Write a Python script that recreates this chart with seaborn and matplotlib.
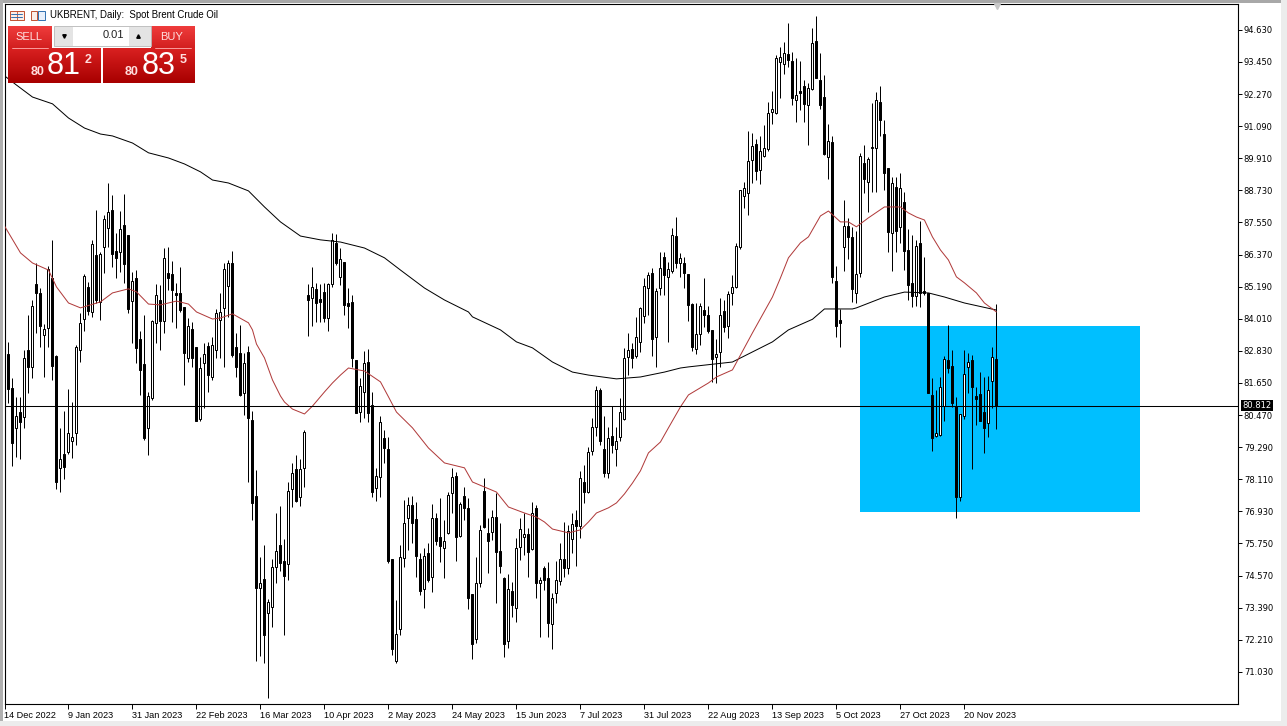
import numpy as np
import pandas as pd
import seaborn as sns
import matplotlib.pyplot as plt
from matplotlib.patches import Rectangle

# ---- data ----
opens = [
    82.74,82.70,81.45,80.01,80.57,80.41,82.86,82.25,85.29,84.95,
    83.41,83.66,85.50,82.64,78.51,79.03,79.12,79.53,79.80,82.86,
    83.99,85.19,84.24,86.35,84.64,86.66,87.33,88.01,86.50,86.48,
    87.45,87.09,84.68,85.50,83.25,82.35,80.01,81.09,83.84,84.70,
    83.94,85.68,85.66,84.97,84.95,84.43,82.56,83.62,82.98,80.33,
    82.37,83.01,81.86,82.86,83.97,84.39,85.23,86.05,82.98,82.74,
    81.29,82.80,80.29,77.49,74.12,74.44,73.18,73.43,74.90,75.68,
    75.12,74.98,77.76,78.47,77.47,78.51,84.88,84.76,85.09,84.74,
    85.00,84.05,85.28,86.78,85.56,86.09,84.58,84.61,82.50,80.57,
    81.31,82.41,80.83,77.80,78.18,79.61,79.21,75.17,71.44,72.59,
    75.20,76.67,77.16,76.64,75.17,74.06,75.39,74.53,76.67,75.97,
    75.57,76.12,77.59,78.23,76.04,77.49,77.04,73.89,72.22,74.28,
    77.69,76.15,76.16,76.71,75.47,74.47,72.17,74.00,73.36,75.63,
    76.00,76.09,75.53,77.04,74.28,74.84,74.47,72.78,73.94,74.38,
    75.17,74.84,75.90,76.61,76.39,78.02,77.65,79.16,80.02,81.39,
    79.21,78.33,79.70,79.22,79.68,80.33,82.59,82.89,82.65,83.17,
    84.12,85.13,85.68,83.33,85.13,86.27,85.56,85.77,87.05,86.05,
    86.05,85.64,84.55,82.89,83.44,84.33,84.15,83.60,82.62,82.78,
    84.30,83.76,84.97,85.17,86.64,88.54,88.65,89.85,90.42,89.48,
    90.01,90.25,91.62,91.56,93.44,93.37,93.73,93.49,92.05,92.38,
    92.57,91.85,92.45,94.23,92.79,92.15,89.97,90.52,85.40,83.97,
    86.66,87.42,87.00,84.97,85.68,89.72,89.03,90.28,90.28,91.99,
    90.80,89.54,87.18,88.87,87.40,88.29,86.54,85.31,84.86,86.78,
    85.04,84.95,81.21,79.70,79.74,80.80,82.50,82.27,80.80,77.45,
    80.45,82.22,82.50,81.17,81.24,80.60,80.17,81.73,82.52,
]
highs = [
    82.98,83.17,81.82,81.15,81.15,82.86,84.15,84.70,86.05,85.13,
    83.82,85.95,86.91,82.68,79.98,80.62,81.43,80.95,83.05,84.21,
    85.66,85.37,86.91,88.01,86.48,87.83,88.99,88.56,87.15,87.98,
    88.59,87.09,85.74,85.80,83.56,84.15,81.31,83.97,85.28,85.25,
    86.62,86.66,86.15,85.31,85.93,84.46,84.03,83.90,82.98,82.62,
    83.11,83.17,83.35,84.36,84.95,86.05,86.17,86.51,83.47,83.78,
    82.74,83.01,80.62,78.45,75.27,75.69,73.70,75.17,76.86,77.13,
    75.91,78.01,78.72,79.00,78.85,79.92,85.29,85.93,85.31,85.29,
    85.31,85.31,87.15,87.13,86.60,86.09,85.13,84.88,82.50,81.85,
    82.82,82.89,81.33,78.51,80.45,79.92,79.68,75.17,73.67,75.69,
    77.35,77.47,77.49,77.29,75.39,75.57,75.78,77.19,76.88,77.41,
    76.61,77.65,78.51,78.39,77.29,77.84,77.41,73.89,75.27,76.43,
    78.14,76.67,76.98,77.62,76.51,74.53,74.63,74.35,75.94,76.70,
    76.86,76.31,77.26,77.16,74.50,74.92,75.08,73.92,75.12,75.78,
    76.55,76.43,76.86,76.98,78.43,78.63,79.31,80.35,81.54,81.45,
    80.44,80.04,80.80,80.04,81.09,82.92,83.47,83.13,84.06,84.43,
    85.50,85.74,85.87,85.13,86.48,86.45,86.11,87.33,87.74,86.42,
    86.29,85.64,84.58,84.58,84.58,85.52,84.48,83.60,83.25,84.76,
    84.70,85.04,85.62,86.78,88.74,89.03,90.91,90.83,90.61,90.73,
    91.13,91.99,92.38,93.71,94.01,94.17,94.87,93.83,93.61,93.50,
    92.79,92.67,94.69,95.14,93.77,92.97,91.16,90.73,85.96,84.37,
    88.38,87.70,87.40,87.24,90.09,90.40,89.95,91.93,92.36,92.57,
    91.32,89.54,89.23,89.23,89.38,88.68,87.31,87.09,86.91,87.60,
    86.29,84.95,81.85,81.39,81.88,82.64,83.78,82.86,81.15,80.50,
    82.86,82.74,82.68,81.51,82.04,81.88,81.91,82.98,84.55,
]
lows = [
    80.53,80.90,78.60,78.94,78.87,80.01,81.29,81.82,83.47,82.98,
    81.86,82.98,81.76,77.75,77.65,78.12,79.04,78.90,79.37,82.43,
    83.57,84.15,84.09,84.58,83.97,85.71,86.66,85.93,85.50,85.74,
    85.31,84.21,83.11,82.37,81.21,79.55,79.00,81.03,83.11,82.86,
    83.47,85.07,83.90,83.66,84.27,81.57,82.43,82.25,80.26,80.26,
    80.72,81.31,81.76,82.56,82.56,82.25,84.09,82.62,81.88,81.17,
    80.47,78.02,76.61,71.44,71.61,71.37,70.08,72.69,74.31,74.75,
    72.38,74.41,77.10,77.29,77.14,77.84,83.38,83.75,83.90,83.90,
    83.90,83.57,85.17,85.99,85.25,84.15,83.66,82.25,80.53,80.23,
    80.35,80.23,77.47,77.32,77.47,78.70,75.02,71.65,71.37,72.38,
    74.87,75.51,75.75,74.53,73.86,73.36,74.35,73.98,75.69,75.06,
    74.47,76.10,76.88,75.12,76.00,76.61,73.33,71.49,72.08,74.16,
    76.31,74.65,75.88,73.57,74.68,71.59,71.92,73.06,72.87,75.14,
    75.33,74.53,75.51,73.76,72.30,74.04,72.32,71.86,73.57,74.22,
    74.53,74.63,75.39,74.92,75.94,77.25,77.59,79.00,79.70,79.37,
    78.18,78.14,79.06,78.61,79.53,80.29,81.94,82.19,82.56,82.80,
    83.84,84.15,82.65,82.25,84.88,84.88,83.17,85.71,85.87,85.56,
    85.13,83.94,82.84,82.72,83.05,83.72,83.50,81.67,81.66,82.25,
    83.54,83.29,84.52,85.13,86.56,88.07,87.83,89.01,89.11,88.97,
    89.97,90.18,91.17,91.54,92.12,93.00,93.25,91.87,91.26,91.69,
    91.26,90.41,92.42,92.85,91.71,90.03,89.16,85.31,83.35,82.98,
    85.78,86.21,84.64,84.60,85.53,88.62,87.95,88.68,88.68,90.71,
    88.75,86.48,85.78,86.48,86.78,85.80,84.70,84.46,84.48,84.43,
    84.88,81.29,79.16,79.68,79.70,80.26,82.00,80.75,76.67,77.32,
    80.33,81.27,78.47,80.10,80.26,79.06,79.68,80.72,79.96,
]
closes = [
    81.02,81.43,79.46,80.44,80.20,82.56,82.22,84.48,84.97,83.75,
    83.62,85.83,82.27,78.02,78.84,78.57,79.80,79.65,82.98,83.87,
    85.58,84.31,86.75,84.70,86.38,87.67,87.92,86.39,86.26,87.30,
    86.02,84.36,85.40,82.92,82.13,79.61,81.17,83.94,84.88,83.94,
    86.23,85.52,85.07,84.88,84.33,82.74,83.75,82.56,80.26,82.19,
    82.70,81.94,83.05,84.21,84.24,85.83,86.05,82.68,82.25,81.21,
    82.40,80.35,77.22,74.10,74.31,72.38,73.61,74.90,75.46,75.04,
    74.57,77.69,78.33,77.31,78.47,79.84,84.70,85.17,84.58,84.64,
    84.05,85.28,86.91,86.05,86.20,84.52,84.48,82.58,80.53,81.54,
    82.37,80.53,77.65,78.23,80.20,79.27,75.12,71.86,72.41,75.24,
    76.49,77.15,76.51,75.30,74.01,75.29,74.41,76.67,75.85,75.67,
    75.85,77.53,78.18,76.00,77.19,77.07,73.76,72.05,74.28,76.24,
    76.37,75.85,76.71,75.45,74.93,72.05,74.06,73.49,75.57,76.27,
    76.09,75.45,76.88,74.31,74.41,74.41,72.84,73.76,74.41,75.17,
    74.84,76.22,76.46,76.39,78.14,77.65,79.12,80.02,81.39,79.53,
    78.33,79.64,79.37,79.52,80.57,82.56,82.86,82.56,83.33,84.42,
    85.22,85.62,83.27,85.04,85.87,85.62,85.83,87.09,86.05,86.23,
    85.71,84.53,82.98,83.44,84.48,84.16,83.56,82.54,82.70,84.15,
    83.72,84.91,85.17,86.69,88.74,88.81,89.81,90.36,89.45,90.18,
    90.28,91.56,91.72,93.59,93.62,93.77,93.52,92.14,92.24,92.32,
    91.91,92.48,94.14,92.87,91.85,90.07,90.56,85.56,83.76,83.87,
    87.42,87.03,85.12,85.64,89.99,89.14,89.87,90.31,92.05,91.32,
    89.38,87.21,88.99,87.25,88.81,86.51,85.25,84.85,86.69,84.95,
    84.97,81.29,79.64,79.80,81.49,82.52,82.21,80.90,77.47,80.50,
    81.97,82.43,81.51,81.06,80.26,80.01,81.39,82.59,80.81,
]

# moving averages, read at the bars where the curve bends
ma_slow_bars = [0,3,7,12,16,20,24,27,32,36,41,45,49,52,56,61,65,69,74,79,84,90,95,99,105,110,116,
                117,124,128,132,137,142,146,153,159,165,169,171,182,187,192,196,202,205,212,213,220,225,
                231,235,240,248]
ma_slow = [92.94,92.60,92.16,91.91,91.39,91.02,90.80,90.73,90.47,90.11,89.92,89.70,89.41,89.11,89.00,
           88.71,88.12,87.57,87.05,86.91,86.83,86.61,86.25,85.80,85.14,84.70,84.26,84.08,83.60,83.16,
           82.94,82.42,82.05,81.94,81.80,81.87,82.05,82.20,82.24,82.42,82.79,83.16,83.60,83.99,84.37,
           84.37,84.41,84.81,84.99,84.96,84.81,84.59,84.33]
ma_fast_bars = [0,4,7,11,13,16,19,24,27,31,33,36,39,43,46,48,52,54,57,61,62,63,65,67,69,70,72,75,77,80,
                82,84,86,90,94,96,98,102,106,110,115,117,123,126,130,133,135,137,141,144,146,148,151,
                153,155,157,159,161,164,166,169,171,176,178,182,187,192,194,196,199,201,204,206,209,
                211,213,216,220,224,226,228,230,232,234,236,238,240,243,245,248]
ma_fast = [87.42,86.43,86.06,85.80,85.18,84.59,84.41,84.63,84.96,85.11,85.00,84.55,84.52,84.66,84.55,
           84.26,84.00,84.04,84.19,83.86,83.60,83.08,82.57,81.76,81.17,80.95,80.69,80.51,80.80,81.32,
           81.65,81.94,82.20,82.09,81.69,81.14,80.58,80.00,79.26,78.71,78.53,78.01,77.64,77.09,76.87,
           76.72,76.54,76.28,76.14,76.25,76.54,76.87,77.06,77.24,77.57,77.97,78.42,79.08,79.48,80.00,
           80.77,81.21,81.65,81.87,82.13,83.49,84.81,85.51,86.25,86.80,87.02,87.79,87.97,87.57,87.57,
           87.39,87.72,88.12,88.12,87.90,87.75,87.64,87.02,86.54,86.17,85.55,85.33,84.96,84.59,84.26]

price_ticks = [94.63,93.45,92.27,91.09,89.91,88.73,87.55,86.37,85.19,84.01,82.83,81.65,
               80.47,79.29,78.11,76.93,75.75,74.57,73.39,72.21,71.03]
date_ticks = [0,16,32,48,64,80,96,112,128,144,160,176,192,208,224,240]
date_labels = ["14 Dec 2022","9 Jan 2023","31 Jan 2023","22 Feb 2023","16 Mar 2023","10 Apr 2023",
               "2 May 2023","24 May 2023","15 Jun 2023","7 Jul 2023","31 Jul 2023","22 Aug 2023",
               "13 Sep 2023","5 Oct 2023","27 Oct 2023","20 Nov 2023"]
last_price = 80.812
zone_bars = (213.9, 283.9)
zone_prices = (76.9, 83.76)

sns.set_theme(style="white")
plt.rcParams["font.family"] = ["DejaVu Sans"]

W, H = 1287, 726
fig = plt.figure(figsize=(W / 100, H / 100), dpi=100, facecolor="white")

# chart area in pixels: x 4.5..1238, y 4..703.7
ax = fig.add_axes([4.5 / W, 1 - 703.7 / H, (1238 - 4.5) / W, (703.7 - 4) / H])
ax.set_xlim(0, 308.4)
ax.set_ylim(69.86, 95.58)

df = pd.DataFrame({"open": opens, "high": highs, "low": lows, "close": closes})
df["bar"] = np.arange(len(df))
df["top"] = df[["open", "close"]].max(axis=1)
df["bottom"] = df[["open", "close"]].min(axis=1)
up = df[df["close"] >= df["open"]]
down = df[df["close"] < df["open"]]

ax.add_patch(Rectangle((zone_bars[0], zone_prices[0]), zone_bars[1] - zone_bars[0],
                       zone_prices[1] - zone_prices[0], color="#00BFFF", lw=0, zorder=1))

ax.vlines(df["bar"], df["low"], df["high"], color="black", lw=0.72, zorder=2)
ax.bar(up["bar"], up["top"] - up["bottom"], bottom=up["bottom"], width=0.5,
       facecolor="white", edgecolor="black", lw=0.72, zorder=3)
ax.bar(down["bar"], down["top"] - down["bottom"], bottom=down["bottom"], width=0.5,
       facecolor="black", edgecolor="black", lw=0.72, zorder=3)

slow = pd.DataFrame({"bar": ma_slow_bars, "price": ma_slow})
fast = pd.DataFrame({"bar": ma_fast_bars, "price": ma_fast})
sns.lineplot(data=slow, x="bar", y="price", color="black", lw=0.72, ax=ax, zorder=4)
sns.lineplot(data=fast, x="bar", y="price", color="#b03a3a", lw=0.72, ax=ax, zorder=4)

ax.axhline(last_price, color="black", lw=0.75, zorder=5)

ax.set_xlabel("")
ax.set_ylabel("")
ax.set_xticks(date_ticks)
ax.set_xticklabels(date_labels, ha="left", fontsize=6.6, family="Liberation Sans")
ax.yaxis.tick_right()
ax.set_yticks(price_ticks)
ax.set_yticklabels([f"{p:.3f}" for p in price_ticks], fontsize=6.0)
ax.tick_params(axis="x", length=3.5, width=0.7, pad=1.5, colors="black", bottom=True)
ax.tick_params(axis="y", length=3, width=0.7, pad=1.2, colors="black", right=True, left=False)
for s in ax.spines.values():
    s.set_color("black")
    s.set_linewidth(0.8)

# overlay in pixel coordinates: window frame and trade panel
ov = fig.add_axes([0, 0, 1, 1], zorder=10)
ov.set_xlim(0, W)
ov.set_ylim(H, 0)
ov.axis("off")
ov.patch.set_alpha(0)

for r in [(0, 0, W, 2.5, "#a8a8a8"), (0, 0, 2.5, H, "#b0b0b0"), (0, 721, W, 5, "#ececec"), (1281, 0, 6, H, "#ececec")]:
    ov.add_patch(Rectangle((r[0], r[1]), r[2], r[3], color=r[4], lw=0))


def red_box(x0, x1, y0, y1, c_top, c_bottom):
    top = np.array(plt.matplotlib.colors.to_rgb(c_top))
    bottom = np.array(plt.matplotlib.colors.to_rgb(c_bottom))
    t = np.linspace(0, 1, 32)[:, None, None]
    img = top[None, None, :] * (1 - t) + bottom[None, None, :] * t
    ov.imshow(img, extent=(x0, x1, y1, y0), aspect="auto", zorder=2)


red_box(8, 52, 26, 48, "#ef3c3c", "#d32020")
red_box(151, 195, 26, 48, "#ef3c3c", "#d32020")
red_box(8, 101, 48, 83, "#d92020", "#a80000")
red_box(103, 195, 48, 83, "#d92020", "#a80000")
ov.set_xlim(0, W)
ov.set_ylim(H, 0)
ov.plot([12, 48], [47.5, 47.5], color="#ffb0b0", lw=0.6, zorder=3)
ov.plot([155, 191], [47.5, 47.5], color="#ffb0b0", lw=0.6, zorder=3)
ov.add_patch(Rectangle((54, 26), 97, 20, facecolor="#e4e4e4", edgecolor="#b8b8b8", lw=0.6, zorder=2))
ov.add_patch(Rectangle((73, 26.5), 56, 19, facecolor="white", lw=0, zorder=3))
ov.plot([64], [35.5], marker="v", ms=2.5, color="black", zorder=3)
ov.plot([138], [35.5], marker="^", ms=2.5, color="black", zorder=3)

panel_font = "Liberation Sans"
ov.text(29, 37, "SELL", color="#ffe0e0", fontsize=8, ha="center", va="center", family=panel_font, zorder=4)
ov.text(172, 37, "BUY", color="#ffe0e0", fontsize=8, ha="center", va="center", family=panel_font, zorder=4)
ov.text(124, 35.5, "0.01", color="#222222", fontsize=8, ha="right", va="center", family=panel_font, zorder=4)
ov.text(38, 72, "80", color="#ffdede", fontsize=9, fontweight="bold", ha="center", va="center", family=panel_font, zorder=4)
ov.text(64, 66, "81", color="white", fontsize=22, ha="center", va="center", family=panel_font, zorder=4)
ov.text(88, 60, "2", color="#ffdede", fontsize=9, fontweight="bold", ha="center", va="center", family=panel_font, zorder=4)
ov.text(132, 72, "80", color="#ffdede", fontsize=9, fontweight="bold", ha="center", va="center", family=panel_font, zorder=4)
ov.text(159, 66, "83", color="white", fontsize=22, ha="center", va="center", family=panel_font, zorder=4)
ov.text(183, 60, "5", color="#ffdede", fontsize=9, fontweight="bold", ha="center", va="center", family=panel_font, zorder=4)

# small icons + chart title
ov.add_patch(Rectangle((9.5, 10.5), 14, 9.5, facecolor="#fbeee8", edgecolor="#c05030", lw=0.7, zorder=2))
ov.plot([16.5, 16.5], [10.5, 20], color="#c05030", lw=0.6, zorder=3)
for yy in (13.5, 16.5):
    ov.plot([11, 22], [yy, yy], color="#3070b0", lw=0.7, zorder=3)
ov.add_patch(Rectangle((30.5, 10.5), 6, 9.5, facecolor="#fbeee8", edgecolor="#c05030", lw=0.7, zorder=2))
ov.add_patch(Rectangle((37.5, 10.5), 7, 9.5, facecolor="#e8f0fb", edgecolor="#3070b0", lw=0.7, zorder=2))
ov.text(50.5, 15.5, "UKBRENT, Daily:  Spot Brent Crude Oil", fontsize=6.9, color="black", ha="left",
        va="center", family="Liberation Sans", zorder=4)

# current price tag
ov.add_patch(Rectangle((1241, 400), 32, 11, color="black", lw=0, zorder=4))
ov.text(1257, 405.7, f"{last_price:.3f}", color="white", fontsize=6.0, ha="center", va="center", zorder=5)
ov.plot([997], [6], marker="v", ms=4, color="#c8c8c8", zorder=4)

fig.savefig("out.png", dpi=100, facecolor=fig.get_facecolor())
